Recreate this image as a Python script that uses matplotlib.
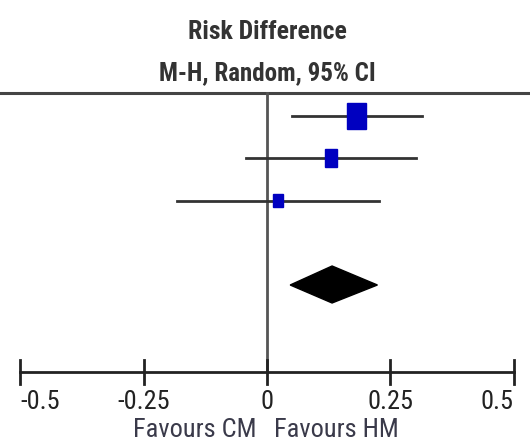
import matplotlib
matplotlib.use("Agg")
import matplotlib.pyplot as plt
from matplotlib.patches import Rectangle, Polygon

# study estimates (risk difference, 95% CI)
est = [0.182, 0.129, 0.022]
lo = [0.051, -0.043, -0.183]
hi = [0.314, 0.302, 0.227]
# pooled estimate
pooled = 0.132
pooled_lo = 0.047
pooled_hi = 0.224
ticks = [-0.5, -0.25, 0, 0.25, 0.5]
tick_labels = ["-0.5", "-0.25", "0", "0.25", "0.5"]

plt.rcParams["font.family"] = ["Roboto Condensed", "DejaVu Sans"]

fig = plt.figure(figsize=(5.3, 4.48), dpi=100)
ax = fig.add_axes([0, 0, 1, 1])
ax.set_xlim(-267 / 493, 263 / 493)
ax.set_ylim(448, 0)
ax.axis("off")

row_y = [116, 158, 201]
box_w = [19 / 493, 12 / 493, 10 / 493]
box_h = [26, 18, 13]

# header
ax.text(0, 32, "Risk Difference", ha="center", va="center", fontsize=18.5,
        fontweight="bold", color="#333333")
ax.text(0, 73, "M-H, Random, 95% CI", ha="center", va="center", fontsize=18,
        fontweight="bold", color="#333333")
ax.plot([-1, 1], [93, 93], color="#444444", lw=2.2)

# line of no effect
ax.plot([0, 0], [93, 372], color="#555555", lw=2)

for i in range(len(est)):
    ax.plot([lo[i], hi[i]], [row_y[i], row_y[i]], color="#333333", lw=2)
    ax.add_patch(Rectangle((est[i] - box_w[i] / 2, row_y[i] - box_h[i] / 2),
                           box_w[i], box_h[i], color="#0000c0", zorder=3))

ax.add_patch(Polygon([[pooled_lo, 285], [pooled, 266], [pooled_hi, 285], [pooled, 303]],
                     closed=True, color="black", zorder=3))

# x axis
ax.plot([ticks[0], ticks[-1]], [372, 372], color="#222222", lw=2)
for i, (t, lab) in enumerate(zip(ticks, tick_labels)):
    ax.plot([t, t], [360, 384], color="#222222", lw=2)
    ha = "left" if i == 0 else ("right" if i == len(ticks) - 1 else "center")
    ax.text(t, 402, lab, ha=ha, va="center", fontsize=19, color="#222222")

ax.text(-0.021, 430, "Favours CM", ha="right", va="center", fontsize=19, color="#3a3a4a")
ax.text(0.014, 430, "Favours HM", ha="left", va="center", fontsize=19, color="#3a3a4a")

fig.savefig("out.png", dpi=100)
